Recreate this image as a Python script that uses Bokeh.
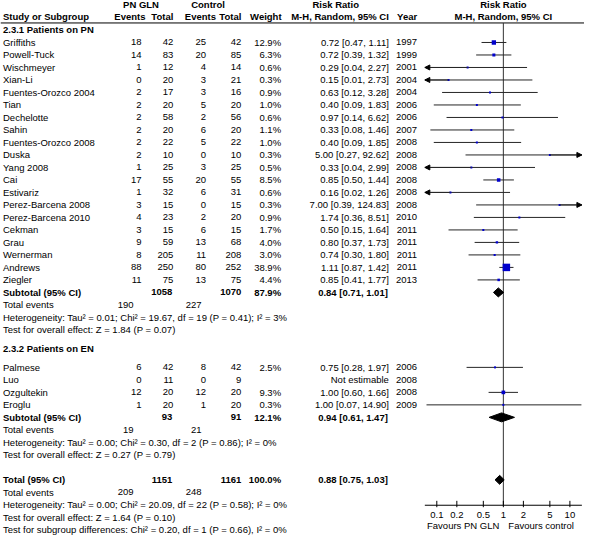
import math
from bokeh.plotting import figure
from bokeh.models import Range1d, LogScale, ColumnDataSource, Arrow, NormalHead
from bokeh.embed import file_html
from bokeh.resources import INLINE
from bokeh.core.properties import value

# ---------------- data ----------------
group_titles = ["2.3.1 Patients on PN", "2.3.2 Patients on EN"]

pn_studies = ["Griffiths", "Powell-Tuck", "Wischmeyer", "Xian-Li", "Fuentes-Orozco 2004",
              "Tian", "Dechelotte", "Sahin", "Fuentes-Orozco 2008", "Duska", "Yang 2008",
              "Cai", "Estivariz", "Perez-Barcena 2008", "Perez-Barcena 2010", "Cekman",
              "Grau", "Wernerman", "Andrews", "Ziegler"]
pn_gln_events = [18, 14, 1, 0, 2, 2, 2, 2, 2, 2, 1, 17, 1, 3, 4, 3, 9, 8, 88, 11]
pn_gln_total = [42, 83, 12, 20, 17, 20, 58, 20, 22, 10, 25, 55, 32, 15, 23, 15, 59, 205, 250, 75]
pn_ctl_events = [25, 20, 4, 3, 3, 5, 2, 6, 5, 0, 3, 20, 6, 0, 2, 6, 13, 11, 80, 13]
pn_ctl_total = [42, 85, 14, 21, 16, 20, 56, 20, 22, 10, 25, 55, 31, 15, 20, 15, 68, 208, 252, 75]
pn_weight = [12.9, 6.3, 0.6, 0.3, 0.9, 1.0, 0.6, 1.1, 1.0, 0.3, 0.5, 8.5, 0.6, 0.3, 0.9,
             1.7, 4.0, 3.0, 38.9, 4.4]
pn_rr = [0.72, 0.72, 0.29, 0.15, 0.63, 0.40, 0.97, 0.33, 0.40, 5.00, 0.33, 0.85, 0.16,
         7.00, 1.74, 0.50, 0.80, 0.74, 1.11, 0.85]
pn_lo = [0.47, 0.39, 0.04, 0.01, 0.12, 0.09, 0.14, 0.08, 0.09, 0.27, 0.04, 0.50, 0.02,
         0.39, 0.36, 0.15, 0.37, 0.30, 0.87, 0.41]
pn_hi = [1.11, 1.32, 2.27, 2.73, 3.28, 1.83, 6.62, 1.46, 1.85, 92.62, 2.99, 1.44, 1.26,
         124.83, 8.51, 1.64, 1.73, 1.80, 1.42, 1.77]
pn_year = [1997, 1999, 2001, 2004, 2004, 2006, 2006, 2007, 2008, 2008, 2008, 2008, 2008,
           2008, 2010, 2011, 2011, 2011, 2011, 2013]

en_studies = ["Palmese", "Luo", "Ozgultekin", "Eroglu"]
en_gln_events = [6, 0, 12, 1]
en_gln_total = [42, 11, 20, 20]
en_ctl_events = [8, 0, 12, 1]
en_ctl_total = [42, 9, 20, 20]
en_weight = [2.5, None, 9.3, 0.3]
en_rr = [0.75, None, 1.00, 1.00]
en_lo = [0.28, None, 0.60, 0.07]
en_hi = [1.97, None, 1.66, 14.90]
en_year = [2006, 2008, 2008, 2009]

summary_names = ["Subtotal (95% CI)", "Subtotal (95% CI)", "Total (95% CI)"]
summary_gln_total = [1058, 93, 1151]
summary_ctl_total = [1070, 91, 1161]
summary_weight = [87.9, 12.1, 100.0]
summary_rr = [0.84, 0.94, 0.88]
summary_lo = [0.71, 0.61, 0.75]
summary_hi = [1.01, 1.47, 1.03]
summary_gln_events = [190, 19, 209]
summary_ctl_events = [227, 21, 248]
heterogeneity = [
    "Heterogeneity: Tau² = 0.01; Chi² = 19.67, df = 19 (P = 0.41); I² = 3%",
    "Heterogeneity: Tau² = 0.00; Chi² = 0.30, df = 2 (P = 0.86); I² = 0%",
    "Heterogeneity: Tau² = 0.00; Chi² = 20.09, df = 22 (P = 0.58); I² = 0%",
]
overall_effect = [
    "Test for overall effect: Z = 1.84 (P = 0.07)",
    "Test for overall effect: Z = 0.27 (P = 0.79)",
    "Test for overall effect: Z = 1.64 (P = 0.10)",
]
subgroup_test = "Test for subgroup differences: Chi² = 0.20, df = 1 (P = 0.66), I² = 0%"
axis_ticks = [0.1, 0.2, 0.5, 1, 2, 5, 10]
axis_tick_labels = ["0.1", "0.2", "0.5", "1", "2", "5", "10"]
favours_labels = ["Favours PN GLN", "Favours control"]

# ---------------- layout ----------------
FONT = "Liberation Sans"
FS = "9.5px"
W, H = 584, 535
X0, X1 = 6, 594
Y0, Y1 = 0, 548
ONE_X, DECADE = 512.3, 67.0
STEP, Y_FIRST = 12.8, 43.0
AXIS_Y = 517.0
BOUND = 1.18

def row(i):
    return Y_FIRST + STEP * i

NAME_X, GE_X, GT_X, CE_X, CT_X, W_X, RR_X, YR_X = 8.5, 148, 180, 213, 248.5, 288.5, 397, 425.5
TE_G_X, TE_C_X = 140, 208.5

p = figure(width=W, height=H, x_range=Range1d(X0, X1), y_range=Range1d(Y1, Y0),
           output_backend="svg", toolbar_location=None, min_border=0,
           x_axis_location=None, y_axis_location=None)
p.grid.visible = False
p.outline_line_color = None
p.background_fill_color = "white"
p.border_fill_color = "white"
p.extra_x_ranges = {"rr": Range1d(10 ** ((X0 - ONE_X) / DECADE), 10 ** ((X1 - ONE_X) / DECADE))}
p.extra_x_scales = {"rr": LogScale()}
LO_B, HI_B = 10 ** -BOUND, 10 ** BOUND

texts = []

def add(x, y, t, align="left", bold=False, rr=False):
    texts.append((x, y, t, align, bold, rr))

add(147.5, 4.5, "PN GLN", "center", True)
add(215, 4.5, "Control", "center", True)
add(343.5, 4.5, "Risk Ratio", "center", True)
add(ONE_X, 4.5, "Risk Ratio", "center", True)
add(NAME_X, 16.7, "Study or Subgroup", "left", True)
add(152, 16.7, "Events", "right", True)
add(GT_X, 16.7, "Total", "right", True)
add(223, 16.7, "Events", "right", True)
add(CT_X, 16.7, "Total", "right", True)
add(289, 16.7, "Weight", "right", True)
add(RR_X, 16.7, "M-H, Random, 95% CI", "right", True)
add(YR_X, 16.7, "Year", "right", True)
add(ONE_X, 16.7, "M-H, Random, 95% CI", "center", True)

groups = [
    (pn_studies, pn_gln_events, pn_gln_total, pn_ctl_events, pn_ctl_total, pn_weight, pn_rr, pn_lo, pn_hi, pn_year),
    (en_studies, en_gln_events, en_gln_total, en_ctl_events, en_ctl_total, en_weight, en_rr, en_lo, en_hi, en_year),
]
group_start = [0, 26]
group_title_row = [-1, 24.5]

sq_x, sq_y, sq_size = [], [], []
ci_x0, ci_x1, ci_y = [], [], []
ar_x0, ar_x1, ar_y = [], [], []

for g, (names, ge, gt, ce, ct, wt, rr, lo, hi, yr) in enumerate(groups):
    add(NAME_X, row(group_title_row[g]), group_titles[g], "left", True)
    for k in range(len(names)):
        y = row(group_start[g] + k)
        add(NAME_X, y, names[k])
        add(GE_X, y, str(ge[k]), "right")
        add(GT_X, y, str(gt[k]), "right")
        add(CE_X, y, str(ce[k]), "right")
        add(CT_X, y, str(ct[k]), "right")
        add(YR_X, y, str(yr[k]), "right")
        if rr[k] is None:
            add(RR_X, y, "Not estimable", "right")
            continue
        add(W_X, y, f"{wt[k]:.1f}%", "right")
        add(RR_X, y, f"{rr[k]:.2f} [{lo[k]:.2f}, {hi[k]:.2f}]", "right")
        sq_x.append(rr[k]); sq_y.append(y); sq_size.append(max(2.0, 1.2 * math.sqrt(wt[k])))
        a, b = max(lo[k], LO_B), min(hi[k], HI_B)
        ci_x0.append(a); ci_x1.append(b); ci_y.append(y)
        if lo[k] < LO_B:
            ar_x0.append(rr[k]); ar_x1.append(LO_B); ar_y.append(y)
        if hi[k] > HI_B:
            ar_x0.append(rr[k]); ar_x1.append(HI_B); ar_y.append(y)

summary_rows = [20, 30, 35]
dia_xs, dia_ys = [], []
for s in range(3):
    y = row(summary_rows[s])
    add(NAME_X, y, summary_names[s], "left", True)
    add(179, y, str(summary_gln_total[s]), "right", True)
    add(CT_X, y, str(summary_ctl_total[s]), "right", True)
    add(W_X, y, f"{summary_weight[s]:.1f}%", "right", True)
    add(396, y, f"{summary_rr[s]:.2f} [{summary_lo[s]:.2f}, {summary_hi[s]:.2f}]", "right", True)
    add(NAME_X, row(summary_rows[s] + 1), "Total events")
    add(TE_G_X, row(summary_rows[s] + 1), str(summary_gln_events[s]), "right")
    add(TE_C_X, row(summary_rows[s] + 1), str(summary_ctl_events[s]), "right")
    add(NAME_X, row(summary_rows[s] + 2), heterogeneity[s])
    add(NAME_X, row(summary_rows[s] + 3), overall_effect[s])
    h = 4.6
    dia_xs.append([summary_lo[s], summary_rr[s], summary_hi[s], summary_rr[s]])
    dia_ys.append([y, y - h, y, y + h])
add(NAME_X, row(summary_rows[2] + 4), subgroup_test)

for t, lab in zip(axis_ticks, axis_tick_labels):
    add(t, AXIS_Y + 10, lab, "center", False, True)

p.segment(x0=[X0], x1=[X1], y0=[23], y1=[23], line_color="black", line_width=1)
p.segment(x0=[1], x1=[1], y0=[23], y1=[AXIS_Y], line_color="#333333", line_width=1,
          x_range_name="rr")
p.segment(x0=[LO_B], x1=[HI_B], y0=[AXIS_Y], y1=[AXIS_Y], line_color="black", line_width=1,
          x_range_name="rr")
p.segment(x0=axis_ticks, x1=axis_ticks, y0=[AXIS_Y - 4.5] * len(axis_ticks),
          y1=[AXIS_Y + 2] * len(axis_ticks), line_color="black", line_width=1, x_range_name="rr")

p.segment(x0=ci_x0, x1=ci_x1, y0=ci_y, y1=ci_y, line_color="#262626", line_width=1,
          x_range_name="rr")
if ar_x0:
    asrc = ColumnDataSource(dict(x0=ar_x0, x1=ar_x1, y=ar_y))
    p.add_layout(Arrow(end=NormalHead(size=5, fill_color="black", line_color="black", line_width=1),
                       x_start="x0", y_start="y", x_end="x1", y_end="y", source=asrc,
                       line_color="#262626", line_width=1, x_range_name="rr"))
p.scatter(x=sq_x, y=sq_y, size=sq_size, marker="square", fill_color="#0000CC",
          line_color=None, x_range_name="rr")
p.patches(xs=dia_xs, ys=dia_ys, fill_color="black", line_color="black", line_width=1,
          x_range_name="rr")

grouped = {}
for (x, y, t, align, bold, on_rr) in texts:
    grouped.setdefault((align, bold, on_rr), []).append((x, y, t))
for (align, bold, on_rr), lst in grouped.items():
    src = ColumnDataSource(dict(x=[float(a[0]) for a in lst], y=[a[1] for a in lst],
                                text=[a[2] for a in lst]))
    kw = {"x_range_name": "rr"} if on_rr else {}
    p.text(x="x", y="y", text="text", source=src, text_align=align, text_baseline="middle",
           text_font=value(FONT), text_font_size=FS,
           text_font_style="bold" if bold else "normal", text_color="black", **kw)

p.text(x=[1.0], y=[AXIS_Y + 21], text=[favours_labels[0]], text_align="right", text_baseline="middle",
       x_offset=-4, text_font=value(FONT), text_font_size=FS, text_color="black", x_range_name="rr")
p.text(x=[1.0], y=[AXIS_Y + 21], text=[favours_labels[1]], text_align="left", text_baseline="middle",
       x_offset=5, text_font=value(FONT), text_font_size=FS, text_color="black", x_range_name="rr")

open("out.html", "w").write(file_html(p, INLINE))
